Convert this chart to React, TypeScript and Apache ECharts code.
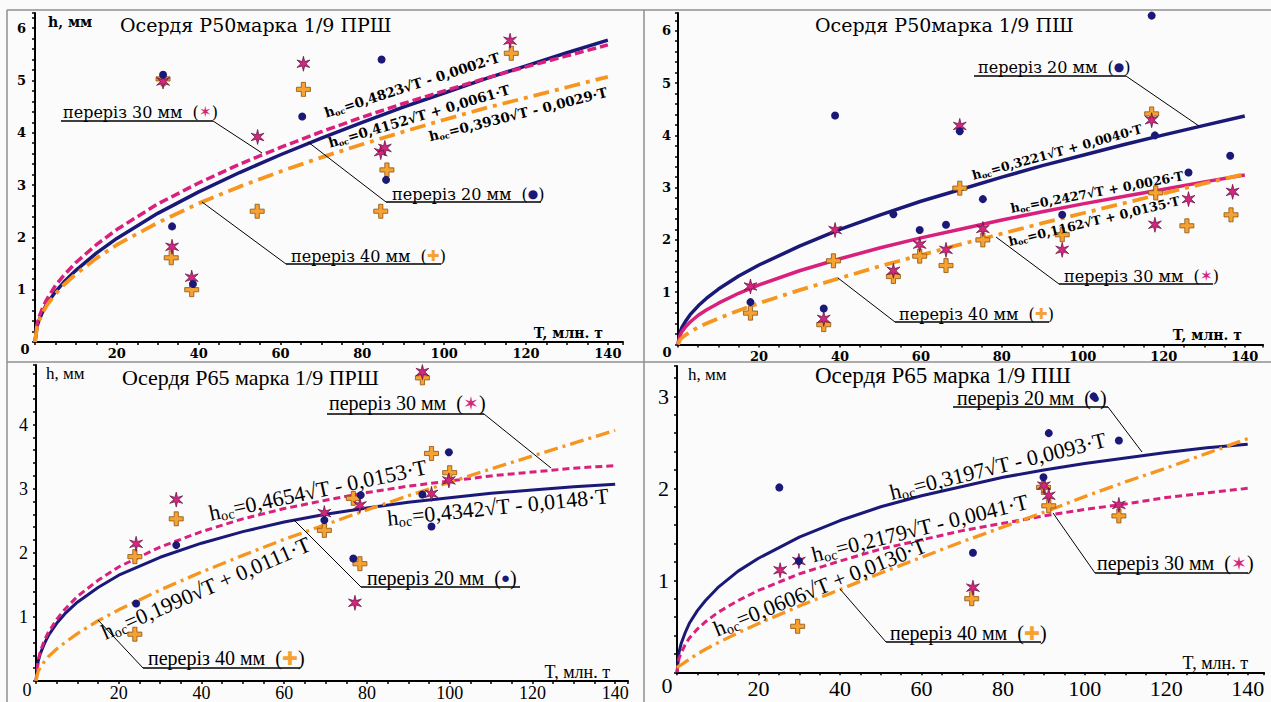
import React, { useEffect, useRef } from "react";
import * as echarts from "echarts";

const T_SAMPLES = [0, 0.5, 1, 2, 3, 5, 7, 10, 15, 20, 30, 40, 50, 60, 70, 80, 90, 100, 110, 120, 130, 140];
const X_LABELS = [20, 40, 60, 80, 100, 120, 140];

// Panel 1 — Осердя Р50марка 1/9 ПРШ
const p1Fit20 = [0, 0.30, 0.42, 0.60, 0.74, 0.96, 1.14, 1.37, 1.70, 1.98, 2.46, 2.87, 3.24, 3.58, 3.90, 4.20, 4.49, 4.76, 5.03, 5.28, 5.53, 5.77];
const p1Fit30 = [0, 0.34, 0.48, 0.68, 0.83, 1.08, 1.27, 1.52, 1.86, 2.15, 2.64, 3.04, 3.40, 3.72, 4.02, 4.30, 4.56, 4.80, 5.04, 5.26, 5.47, 5.68];
const p1Fit40 = [0, 0.29, 0.41, 0.58, 0.71, 0.92, 1.09, 1.30, 1.60, 1.86, 2.28, 2.65, 2.97, 3.26, 3.53, 3.78, 4.02, 4.25, 4.47, 4.67, 4.87, 5.07];
const p1Dots20 = [[31.3, 5.11], [33.5, 2.21], [38.6, 1.11], [65.3, 4.31], [84.7, 5.40], [85.8, 3.10]];
const p1Stars30 = [[31.3, 4.98], [33.5, 1.82], [38.3, 1.23], [54.4, 3.92], [65.6, 5.32], [84.5, 3.63], [85.5, 3.71], [116.1, 5.76]];
const p1Plus40 = [[31.3, 5.03], [33.3, 1.61], [38.3, 1.0], [54.3, 2.5], [65.6, 4.83], [84.5, 2.5], [86.0, 3.29], [116.4, 5.52]];
const p1Formulas = ["=0,4823√T - 0,0002·T", "=0,4152√T + 0,0061·T", "=0,3930√T - 0,0029·T"];

// Panel 2 — Осердя Р50марка 1/9 ПШ
const p2Fit20 = [0, 0.23, 0.33, 0.46, 0.57, 0.74, 0.88, 1.06, 1.31, 1.52, 1.88, 2.20, 2.48, 2.74, 2.97, 3.20, 3.42, 3.62, 3.82, 4.01, 4.19, 4.37];
const p2Fit30 = [0, 0.17, 0.25, 0.35, 0.43, 0.56, 0.66, 0.79, 0.98, 1.14, 1.41, 1.64, 1.85, 2.04, 2.21, 2.38, 2.54, 2.69, 2.83, 2.97, 3.11, 3.24];
const p2Fit40 = [0, 0.09, 0.13, 0.19, 0.24, 0.33, 0.40, 0.50, 0.65, 0.79, 1.04, 1.27, 1.50, 1.71, 1.92, 2.12, 2.32, 2.51, 2.70, 2.89, 3.08, 3.26];
const p2Dots20 = [[17.9, 0.81], [36.0, 0.69], [38.8, 4.38], [53.2, 2.49], [59.7, 2.19], [66.2, 2.29], [69.6, 4.08], [75.3, 2.78], [94.9, 2.48], [117.0, 6.29], [117.8, 4.0], [126.1, 3.29], [136.4, 3.61]];
const p2Stars30 = [[17.9, 1.11], [36.0, 0.49], [38.8, 2.19], [53.2, 1.41], [59.7, 1.91], [66.2, 1.81], [69.6, 4.18], [75.3, 2.21], [94.9, 1.81], [117.0, 4.29], [117.8, 2.29], [126.1, 2.78], [137.0, 2.92]];
const p2Plus40 = [[17.9, 0.6], [36.0, 0.38], [38.4, 1.6], [53.2, 1.3], [59.7, 1.69], [66.2, 1.51], [69.6, 2.99], [75.3, 2.0], [94.9, 2.1], [117.0, 4.41], [118.0, 2.9], [125.7, 2.27], [136.6, 2.48]];
const p2Formulas = ["=0,3221√T + 0,0040·T", "=0,2427√T + 0,0026·T", "=0,1162√T + 0,0135·T"];

// Panel 3 — Осердя Р65 марка 1/9 ПРШ
const p3Fit20 = [0, 0.30, 0.42, 0.58, 0.71, 0.90, 1.05, 1.23, 1.46, 1.65, 1.93, 2.15, 2.33, 2.48, 2.60, 2.70, 2.79, 2.86, 2.93, 2.98, 3.03, 3.07];
const p3Fit30 = [0, 0.32, 0.45, 0.63, 0.76, 0.96, 1.12, 1.32, 1.57, 1.78, 2.09, 2.33, 2.53, 2.69, 2.82, 2.94, 3.04, 3.12, 3.20, 3.26, 3.32, 3.36];
const p3Fit40 = [0, 0.15, 0.21, 0.30, 0.38, 0.50, 0.60, 0.74, 0.94, 1.11, 1.42, 1.70, 1.96, 2.21, 2.44, 2.67, 2.89, 3.10, 3.31, 3.51, 3.71, 3.91];
const p3Dots20 = [[24.2, 1.21], [33.9, 2.12], [69.7, 2.51], [76.7, 1.91], [78.5, 2.9], [93.4, 2.91], [95.6, 2.41], [99.8, 3.57]];
const p3Stars30 = [[24.2, 2.14], [33.9, 2.83], [69.7, 2.62], [77.1, 1.22], [78.3, 2.74], [93.4, 4.82], [95.6, 2.92], [99.8, 3.13]];
const p3Plus40 = [[23.9, 1.94], [23.9, 0.73], [33.9, 2.53], [69.7, 2.35], [76.7, 2.85], [78.3, 1.83], [93.4, 4.73], [95.6, 3.55], [100.0, 3.25]];
const p3Formulas = ["=0,4654√T - 0,0153·T", "=0,4342√T - 0,0148·T", "=0,1990√T + 0,0111·T"];

// Panel 4 — Осердя Р65 марка 1/9 ПШ
const p4Fit20 = [0, 0.22, 0.31, 0.43, 0.53, 0.67, 0.78, 0.92, 1.10, 1.24, 1.47, 1.65, 1.80, 1.92, 2.02, 2.12, 2.20, 2.27, 2.33, 2.39, 2.44, 2.48];
const p4Fit30 = [0, 0.15, 0.21, 0.30, 0.37, 0.47, 0.55, 0.65, 0.78, 0.89, 1.07, 1.21, 1.34, 1.44, 1.54, 1.62, 1.70, 1.77, 1.83, 1.90, 1.95, 2.00];
const p4Fit40 = [0.05, 0.07, 0.08, 0.11, 0.14, 0.20, 0.25, 0.32, 0.43, 0.53, 0.72, 0.90, 1.08, 1.25, 1.42, 1.58, 1.74, 1.91, 2.07, 2.22, 2.38, 2.54];
const p4Dots20 = [[25.1, 2.01], [29.9, 1.21], [72.6, 1.3], [89.9, 2.12], [91.2, 2.6], [102.2, 3.0], [108.4, 2.52]];
const p4Stars30 = [[25.3, 1.11], [29.9, 1.21], [72.6, 0.92], [90.0, 2.03], [91.2, 1.92], [108.4, 1.82]];
const p4Plus40 = [[29.6, 0.5], [72.3, 0.8], [89.9, 2.01], [91.2, 1.81], [108.4, 1.7]];
const p4Formulas = ["=0,3197√T - 0,0093·T", "=0,2179√T - 0,0041·T", "=0,0606√T + 0,0130·T"];

const TITLES = ["Осердя Р50марка 1/9 ПРШ", "Осердя Р50марка 1/9 ПШ", "Осердя Р65 марка 1/9 ПРШ", "Осердя Р65 марка 1/9 ПШ"];
const LEGEND_NAMES = ["переріз 20 мм", "переріз 30 мм", "переріз 40 мм"];

// ---------- styles / layout ----------
const NAVY = "#1b1977";
const MAGENTA = "#d9207d";
const ORANGE = "#f7961f";
const TF = "DejaVu Serif, serif";
const BF = "Liberation Serif, serif";

const starPath =
  "path://" +
  Array.from({ length: 12 }, (_, i) => {
    const a = -Math.PI / 2 + (i * Math.PI) / 6;
    const r = i % 2 ? 17 : 50;
    return (i ? "L" : "M") + (50 + r * Math.cos(a)).toFixed(1) + "," + (50 + r * Math.sin(a)).toFixed(1);
  }).join("") +
  "Z";
const plusPath = "path://M35,0H65V35H100V65H65V100H35V65H0V35H35Z";

const PANELS = [
  {
    grid: { left: 35, top: 13, width: 588, height: 329 }, xMax: 143.7, yMax: 6.29,
    fits: [p1Fit20, p1Fit30, p1Fit40], pts: [p1Dots20, p1Stars30, p1Plus40],
    dash30: [9, 4], lw: 3.5, font: TF, tick: 13, tickW: "bold", yMargin: 9, xMargin: 5,
  },
  {
    grid: { left: 678, top: 13, width: 585, height: 331.5 }, xMax: 144.5, yMax: 6.34,
    fits: [p2Fit20, p2Fit30, p2Fit40], pts: [p2Dots20, p2Stars30, p2Plus40],
    dash30: "solid", lw: 3.5, font: TF, tick: 13, tickW: "bold", yMargin: 7, xMargin: 5,
  },
  {
    grid: { left: 36, top: 365, width: 592, height: 316.7 }, xMax: 143.1, yMax: 4.93,
    fits: [p3Fit20, p3Fit30, p3Fit40], pts: [p3Dots20, p3Stars30, p3Plus40],
    dash30: [7, 4], lw: 3, font: BF, tick: 18, tickW: "normal", yMargin: 8, xMargin: 3,
  },
  {
    grid: { left: 677, top: 366, width: 587, height: 306.3 }, xMax: 144, yMax: 3.33,
    fits: [p4Fit20, p4Fit30, p4Fit40], pts: [p4Dots20, p4Stars30, p4Plus40],
    dash30: [7, 4], lw: 3, font: BF, tick: 22, tickW: "normal", yMargin: 8, xMargin: 5,
  },
];

function txt(x: number, y: number, text: string, font: string, size: number, weight = "normal", align = "left", extra: any = {}, rotation = 0) {
  return {
    type: "text", x, y, rotation, silent: true, z: 100,
    style: { text, fontFamily: font, fontSize: size, fontWeight: weight, fill: "#000", align, verticalAlign: "middle", ...extra },
  };
}
function ln(x1: number, y1: number, x2: number, y2: number, w = 1, stroke = "#000") {
  return { type: "line", silent: true, z: 99, shape: { x1, y1, x2, y2 }, style: { stroke, lineWidth: w } };
}

// legend: [kind, textLeft, textCy, ulX1, ulX2, ulY, anchorX, tipX, tipY]
const LEGENDS = [
  [[1, 63, 112, 61, 213, 121, 213, 262, 153], [0, 392, 194, 386, 541, 202, 386, 308, 142], [2, 291, 256, 286, 441, 264, 286, 202, 202]],
  [[0, 978, 67, 974, 1126, 76, 1126, 1199, 126], [1, 1064, 276, 1059, 1213, 284, 1059, 996, 237], [2, 899, 314, 895, 1049, 322, 895, 838, 278]],
  [[1, 329, 403, 327, 484, 414, 484, 551, 468], [0, 367, 578, 361, 520, 587, 361, 294, 520], [2, 148, 658, 143, 300, 668, 143, 98, 620]],
  [[0, 957, 398, 953, 1108, 407, 1108, 1142, 452], [1, 1097, 563, 1095, 1248, 573, 1095, 1053, 513], [2, 890, 633, 886, 1041, 642, 886, 840, 589]],
];
// formula placements: [cx, cy, angleDeg]
const FORMULA_POS = [
  [[412, 85, 17.8], [419, 116, 16.6], [518, 114, 14.1]],
  [[1057, 152, 15.5], [1097, 192, 10.8], [1094, 221, 13.6]],
  [[318, 490, 12.1], [498, 507, 5.8], [206, 588, 23.6]],
  [[998, 466, 13.9], [920, 528, 14.0], [820, 587, 22.0]],
];
const FORMULAS = [p1Formulas, p2Formulas, p3Formulas, p4Formulas];
const TEXT_STYLE = [
  { legend: 16, formula: 13.5, fw: "bold", title: 19, hSize: 14, hW: "bold", tSize: 14, tW: "bold" },
  { legend: 16, formula: 12.5, fw: "bold", title: 19, hSize: 14, hW: "bold", tSize: 14, tW: "bold" },
  { legend: 20, formula: 22, fw: "normal", title: 22, hSize: 17, hW: "normal", tSize: 18, tW: "normal" },
  { legend: 20, formula: 22, fw: "normal", title: 23, hSize: 17, hW: "normal", tSize: 18, tW: "normal" },
];
const TITLE_POS = [[120, 25], [815, 25], [122, 377], [815, 375]];
const H_POS = [[48, 22], null, [46, 373], [688, 374]];
const T_POS = [[603, 333], [1242, 335], [610, 672], [1248, 663]];
const ZERO_POS = [[25, 349], [667, 352], [27, 690], [667, 685]];

function buildOption() {
  const grid: any[] = [], xAxis: any[] = [], yAxis: any[] = [], series: any[] = [];
  const g: any[] = [];
  g.push(ln(7, 10, 1271, 10, 1.5, "#8f8f8f"), ln(7, 10, 7, 702, 1.5, "#8f8f8f"), ln(644, 10, 644, 702, 1.5, "#8f8f8f"), ln(7, 362, 1271, 362, 1.5, "#8f8f8f"));

  PANELS.forEach((p, i) => {
    grid.push({ ...p.grid, containLabel: false });
    const labelStyle = { fontFamily: p.font, fontSize: p.tick, fontWeight: p.tickW, color: "#000" };
    xAxis.push({
      type: "value", gridIndex: i, min: 0, max: p.xMax, interval: 5,
      axisLine: { show: true, onZero: false, lineStyle: { color: "#000", width: 2 } },
      axisTick: { show: true, length: 3, lineStyle: { color: "#000", width: 1.5 } },
      splitLine: { show: false },
      axisLabel: { ...labelStyle, margin: p.xMargin, formatter: (v: number) => (X_LABELS.includes(Math.round(v)) && Math.abs(v - Math.round(v)) < 1e-6 ? String(Math.round(v)) : "") },
    });
    yAxis.push({
      type: "value", gridIndex: i, min: 0, max: p.yMax, interval: 0.2,
      axisLine: { show: true, onZero: false, lineStyle: { color: "#000", width: 2 } },
      axisTick: { show: true, length: 3, lineStyle: { color: "#000", width: 1.5 } },
      splitLine: { show: false },
      axisLabel: { ...labelStyle, margin: p.yMargin, formatter: (v: number) => (v > 0.5 && Math.abs(v - Math.round(v)) < 1e-6 ? String(Math.round(v)) : "") },
    });
    const lineDefs = [
      { data: p.fits[0], color: NAVY, type: "solid", z: 3 },
      { data: p.fits[1], color: MAGENTA, type: p.dash30, z: 4 },
      { data: p.fits[2], color: ORANGE, type: i < 2 ? [16, 6, 4, 6] : [14, 5, 3, 5], z: 5 },
    ];
    lineDefs.forEach((d, k) => {
      series.push({
        type: "line", name: LEGEND_NAMES[k] + " fit", xAxisIndex: i, yAxisIndex: i,
        data: T_SAMPLES.map((t, j) => [t, d.data[j]]),
        showSymbol: false, smooth: false, z: d.z, silent: true,
        lineStyle: { color: d.color, width: p.lw + (k === 2 ? 0.3 : 0), type: d.type, cap: "butt", join: "round" },
      });
    });
    series.push(
      { type: "scatter", name: LEGEND_NAMES[0], xAxisIndex: i, yAxisIndex: i, data: p.pts[0], symbol: "circle", symbolSize: 8, z: 8, itemStyle: { color: NAVY, opacity: 1 } },
      { type: "scatter", name: LEGEND_NAMES[1], xAxisIndex: i, yAxisIndex: i, data: p.pts[1], symbol: starPath, symbolKeepAspect: true, symbolSize: 15, z: 7, itemStyle: { color: "#d3267e", borderColor: "#5c0f3a", borderWidth: 0.7, opacity: 1 } },
      { type: "scatter", name: LEGEND_NAMES[2], xAxisIndex: i, yAxisIndex: i, data: p.pts[2], symbol: plusPath, symbolSize: 14, z: 6, itemStyle: { color: "#f6a232", borderColor: "#8a5312", borderWidth: 0.8, opacity: 1 } }
    );

    const ts = TEXT_STYLE[i];
    const fnt = p.font;
    g.push(txt(TITLE_POS[i][0], TITLE_POS[i][1], TITLES[i], fnt, ts.title));
    const hp = H_POS[i];
    if (hp) g.push(txt(hp[0], hp[1], "h, мм", fnt, ts.hSize, ts.hW));
    g.push(txt(T_POS[i][0], T_POS[i][1], "T, млн. т", fnt, ts.tSize, ts.tW, "right"));
    g.push(txt(ZERO_POS[i][0], ZERO_POS[i][1], "0", fnt, p.tick, p.tickW, "center"));

    // legends
    const symRich = [
      { text: "●", st: { fill: NAVY, fontSize: Math.round(ts.legend * 0.75), fontFamily: fnt, fontWeight: "normal" } },
      { text: "✶", st: { fill: "#d3267e", fontSize: Math.round(ts.legend * 0.95), fontFamily: fnt, fontWeight: "normal" } },
      { text: "✚", st: { fill: "#f6a232", fontSize: Math.round(ts.legend * 0.95), fontFamily: fnt, fontWeight: "normal" } },
    ];
    LEGENDS[i].forEach((l) => {
      const [kind, tl, tcy, u1, u2, uy, ax, tx, ty] = l;
      const sr = symRich[kind];
      g.push(
        txt(tl, tcy, `{t|${LEGEND_NAMES[kind]}  (}{s|${sr.text}}{t|)}`, fnt, ts.legend, "normal", "left", {
          rich: { t: { fontFamily: fnt, fontSize: ts.legend, fontWeight: "normal", fill: "#000" }, s: sr.st },
        }),
        ln(u1, uy, u2, uy, 1.5),
        ln(ax, uy, tx, ty, 1)
      );
    });
    // formulas
    FORMULAS[i].forEach((f, k) => {
      const [cx, cy, ang] = FORMULA_POS[i][k];
      const fs = ts.formula;
      g.push(
        txt(cx, cy, `{m|h}{s|ос}{m|${f}}`, fnt, fs, ts.fw, "center", {
          rich: {
            m: { fontFamily: fnt, fontSize: fs, fontWeight: ts.fw, fill: "#000" },
            s: { fontFamily: fnt, fontSize: Math.round(fs * 0.62), fontWeight: ts.fw, fill: "#000", padding: [Math.round(fs * 0.5), 0, 0, 0] },
          },
        }, (ang * Math.PI) / 180)
      );
    });
  });

  return {
    animation: false,
    backgroundColor: "#fbfbfb",
    grid, xAxis, yAxis, series,
    graphic: { elements: g },
  };
}

export default function App() {
  const ref = useRef<HTMLDivElement>(null);
  useEffect(() => {
    document.body.style.margin = "0";
    const chart = echarts.init(ref.current as HTMLDivElement, null, { renderer: "svg", width: 1271, height: 702 });
    chart.setOption(buildOption() as any);
    return () => chart.dispose();
  }, []);
  return <div ref={ref} style={{ width: 1271, height: 702, position: "fixed", left: 0, top: 0, background: "#fbfbfb" }} />;
}
